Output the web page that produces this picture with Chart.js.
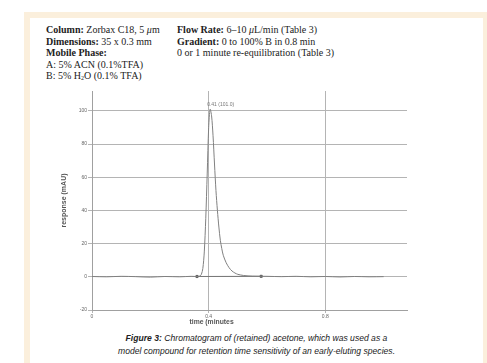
<!DOCTYPE html>
<html>
<head>
<meta charset="utf-8">
<script src="https://cdn.jsdelivr.net/npm/chart.js@4.4.0/dist/chart.umd.min.js"></script>
<style>
  html, body { margin: 0; padding: 0; background: #fff; }
  body { width: 487px; height: 363px; position: relative; overflow: hidden; }
  .frame { position: absolute; left: 24px; top: 12px; width: 465px; height: 400px; background: #fbefdc; }
  .inner { position: absolute; left: 30px; top: 18px; width: 453px; height: 400px; background: #fff; }
  .hdr { position: absolute; top: 24px; font-family: "Liberation Serif", "Times New Roman", serif; font-size: 10px; line-height: 11.5px; color: #222; white-space: nowrap; }
  .hdr b { font-weight: bold; }
  .hdr sub { font-size: 6px; vertical-align: -1px; line-height: 0; }
  #c1 { left: 46px; }
  #c2 { left: 177px; }
  #chartBox { position: absolute; left: 0; top: 85px; width: 487px; height: 245px; }
  .caption { position: absolute; left: 30px; width: 453px; top: 332px; text-align: center; font-family: "Liberation Sans", Arial, sans-serif; font-style: italic; font-size: 8.6px; line-height: 13px; color: #222; }
</style>
</head>
<body>
<div class="frame"></div>
<div class="inner"></div>
<div class="hdr" id="c1">
  <b>Column:</b> Zorbax C18, 5 <i>μ</i>m<br>
  <b>Dimensions:</b> 35 x 0.3 mm<br>
  <b>Mobile Phase:</b><br>
  A: 5% ACN (0.1%TFA)<br>
  B: 5% H<sub>2</sub>O (0.1% TFA)
</div>
<div class="hdr" id="c2">
  <b>Flow Rate:</b> 6–10 <i>μ</i>L/min (Table 3)<br>
  <b>Gradient:</b> 0 to 100% B in 0.8 min<br>
  0 or 1 minute re-equilibration (Table 3)
</div>
<div id="chartBox"><canvas id="chart"></canvas></div>
<div class="caption"><b>Figure 3:</b> Chromatogram of (retained) acetone, which was used as a<br>model compound for retention time sensitivity of an early-eluting species.</div>

<script>
// trace (time in minutes, response in mAU)
const times = [0, 0.05, 0.10, 0.15, 0.20, 0.25, 0.30, 0.34, 0.36, 0.37, 0.375, 0.38, 0.385, 0.39, 0.395, 0.40, 0.405,
               0.41, 0.415, 0.42, 0.425, 0.43, 0.435, 0.44, 0.445, 0.45, 0.46, 0.47, 0.48, 0.49, 0.50, 0.52, 0.55,
               0.60, 0.65, 0.70, 0.75, 0.80, 0.85, 0.90, 0.95, 1.00];
const response = [0.2, 0.0, 0.3, 0.1, -0.2, 0.2, 0.0, 0.3, 0.2, 0.5, 1.5, 5, 15, 35, 62, 90, 101,
                  97, 85, 68, 52, 40, 30, 22, 17, 13, 8.5, 5.5, 3.5, 2.3, 1.5, 0.8, 0.4,
                  0.3, 0.1, 0.3, 0.0, 0.2, -0.1, 0.2, 0.0, 0.1];
// integration markers (peak start / end)
const markerTimes = [0.36, 0.58];
const markerValues = [0.2, 0.3];
const peakLabel = { t: 0.405, v: 101, text: '0.41 (101.0)' };

const xTicks = [0, 0.4, 0.8];
const yTicks = [-20, 0, 20, 40, 60, 80, 100];

function fixTicks(list) {
  return function (scale) { scale.ticks = list.map(v => ({ value: v })); };
}

const labelPlugin = {
  id: 'labels',
  afterDraw(chart) {
    const { ctx, scales } = chart;
    ctx.save();
    ctx.fillStyle = '#777';
    ctx.font = '5px "Liberation Sans", Arial, sans-serif';
    ctx.textAlign = 'left';
    ctx.textBaseline = 'middle';
    ctx.fillText(peakLabel.text, scales.x.getPixelForValue(peakLabel.t) - 3, scales.y.getPixelForValue(peakLabel.v) - 5);
    // x axis title, sits under the 0.4 tick in the original
    ctx.fillStyle = '#555';
    ctx.font = 'bold 6.8px "Liberation Sans", Arial, sans-serif';
    ctx.textAlign = 'center';
    ctx.fillText('time (minutes', scales.x.getPixelForValue(0.41), scales.x.bottom - 4);
    ctx.restore();
  }
};

new Chart(document.getElementById('chart'), {
  type: 'line',
  data: {
    datasets: [
      {
        data: times.map((t, i) => ({ x: t, y: response[i] })),
        borderColor: '#808080',
        borderWidth: 1,
        pointRadius: 0,
        tension: 0.3
      },
      {
        data: markerTimes.map((t, i) => ({ x: t, y: markerValues[i] })),
        showLine: true,
        borderColor: '#666',
        borderWidth: 0.8,
        pointStyle: 'rect',
        pointRadius: 1.5,
        pointBackgroundColor: '#555',
        pointBorderColor: '#555'
      }
    ]
  },
  plugins: [labelPlugin],
  options: {
    responsive: true,
    maintainAspectRatio: false,
    animation: false,
    layout: { padding: { left: 60, right: 80, top: 6, bottom: 4 } },
    plugins: { legend: { display: false }, tooltip: { enabled: false } },
    scales: {
      x: {
        type: 'linear',
        min: 0,
        max: 1.08,
        afterBuildTicks: fixTicks(xTicks),
        afterFit(scale) { scale.height = 16; },
        grid: { color: '#b4b4b4', lineWidth: 1, tickLength: 3 },
        border: { color: '#a0a0a0' },
        ticks: { color: '#666', font: { size: 5, family: 'Liberation Sans' }, padding: 1, maxRotation: 0 }
      },
      y: {
        min: -20,
        max: 112,
        afterBuildTicks: fixTicks(yTicks),
        afterFit(scale) { scale.width = 32; },
        grid: { color: '#b4b4b4', lineWidth: 1, tickLength: 4 },
        border: { color: '#a0a0a0' },
        ticks: { color: '#666', font: { size: 5, family: 'Liberation Sans' }, padding: 1 },
        title: {
          display: true,
          text: 'response (mAU)',
          color: '#555',
          font: { size: 7, weight: 'bold', family: 'Liberation Sans' },
          padding: 0
        }
      }
    }
  }
});
</script>
</body>
</html>
